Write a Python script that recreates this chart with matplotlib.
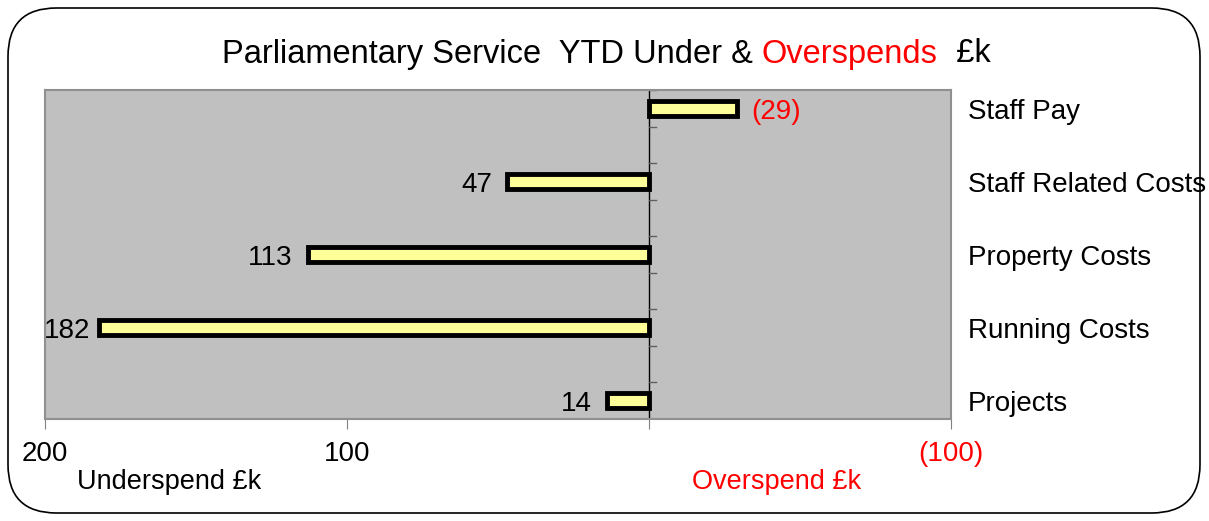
import matplotlib
matplotlib.use("Agg")
import matplotlib.pyplot as plt
from matplotlib.patches import FancyBboxPatch

plt.rcParams["font.family"] = ["Liberation Sans", "DejaVu Sans"]

categories = ["Staff Pay", "Staff Related Costs", "Property Costs", "Running Costs", "Projects"]
underspend = [-29, 47, 113, 182, 14]   # positive = underspend, negative = overspend
value_labels = ["(29)", "47", "113", "182", "14"]
xticks = [200, 100, 0, -100]
xtick_labels = ["200", "100", "", "(100)"]

W, H = 1209, 521
fig = plt.figure(figsize=(W / 100, H / 100), dpi=100)

# rounded frame around the whole chart
frame = FancyBboxPatch((8 / W, 8 / H), (1192 / W), (505 / H),
                       boxstyle="round,pad=0,rounding_size=0.04",
                       transform=fig.transFigure, fill=False, lw=1.2, ec="black",
                       mutation_aspect=W / H)
fig.patches.append(frame)

ax = fig.add_axes([45 / W, 102 / H, 906 / W, 329 / H])
ax.set_facecolor("#c0c0c0")
ypos = list(range(len(categories)))
ax.barh(ypos, underspend, height=0.2, color="#ffff99", edgecolor="black", linewidth=3.5,
        left=0, zorder=3)

ax.set_xlim(200, -100)
ax.set_ylim(4.25, -0.25)
ax.set_xticks(xticks)
ax.set_xticklabels(xtick_labels, fontsize=20)
for lab, v in zip(ax.get_xticklabels(), xticks):
    lab.set_color("red" if v < 0 else "black")
ax.tick_params(axis="x", length=7, color="#808080", pad=9)
ax.set_yticks([])
for s in ax.spines.values():
    s.set_color("#909090")
    s.set_linewidth(1.5)

# zero axis with small ticks to the right
ax.axvline(0, color="black", lw=1, zorder=2)
for i in range(10):
    yb = -0.25 + 0.5 * i
    ax.plot([0, -2.3], [yb, yb], color="#606060", lw=1, zorder=2)

# value labels (kept inside the plot area, as Excel does)
for y, v, lab in zip(ypos, underspend, value_labels):
    if v >= 0:
        ax.annotate(lab, (min(v + 5, 185), y), xytext=(0, -2.5), textcoords="offset points",
                    ha="right", va="center", fontsize=20, color="black")
    else:
        ax.annotate(lab, (v - 5, y), xytext=(0, -2.5), textcoords="offset points",
                    ha="left", va="center", fontsize=20, color="red")

# category names on the right
for y, c in zip(ypos, categories):
    ax.annotate(c, (1.019, 1 - (y + 0.25) / 4.5), xycoords="axes fraction",
                xytext=(0, -2.5), textcoords="offset points",
                ha="left", va="center", fontsize=20)

fig.text(77 / W, 1 - 482 / H, "Underspend £k", fontsize=19.5, va="center")
fig.text(692 / W, 1 - 482 / H, "Overspend £k", fontsize=19.5, va="center", color="red")

# title in three coloured pieces
fig.canvas.draw()
r = fig.canvas.get_renderer()
x = 222
ty = 1 - 54 / H
for txt, col in [("Parliamentary Service  YTD Under & ", "black"), ("Overspends", "red"), ("  £k", "black")]:
    t = fig.text(x / W, ty, txt, fontsize=23.5, color=col, va="center")
    x += t.get_window_extent(r).width

fig.savefig("out.png", dpi=100)
